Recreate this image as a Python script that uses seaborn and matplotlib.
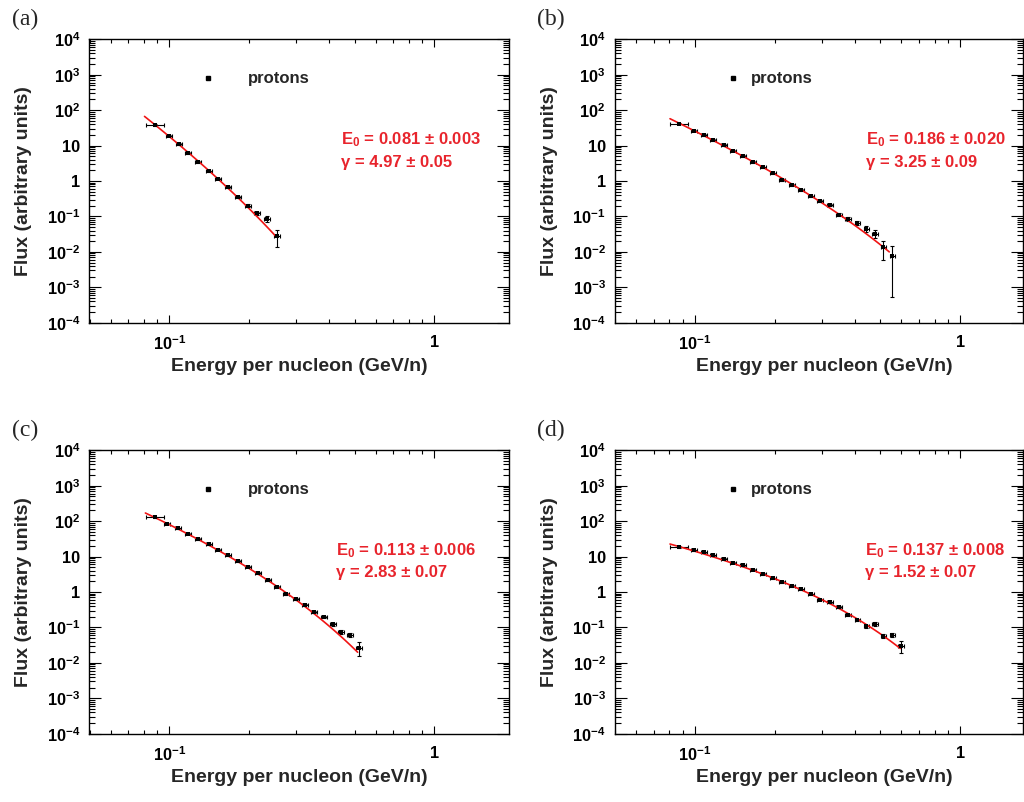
import numpy as np
import pandas as pd
import matplotlib
matplotlib.use("Agg")
import matplotlib.pyplot as plt
import matplotlib.ticker as mticker
import seaborn as sns

# --- values ------------------------------------------------------------------

A_ENERGY = [0.0880, 0.0994, 0.1084, 0.1177, 0.1279, 0.1407, 0.1527, 0.1665,
            0.1816, 0.1975, 0.2143, 0.2337, 0.2549]
A_FLUX = [38.5, 18.9, 11.0, 6.15, 3.43, 1.86, 1.16, 0.678, 0.354, 0.201,
          0.122, 0.085, 0.0275]
A_ERR_DN = [0.02] * 9 + [0.04, 0.05, 0.09, 0.31]
A_ERR_UP = [0.02] * 9 + [0.04, 0.05, 0.09, 0.19]

B_ENERGY = [0.0873, 0.0991, 0.1078, 0.1172, 0.1286, 0.1395, 0.1521, 0.1660,
            0.1810, 0.1964, 0.2135, 0.2317, 0.2518, 0.2733, 0.2962, 0.3224,
            0.3485, 0.3778, 0.4098, 0.4430, 0.4777, 0.5135, 0.5552]
B_FLUX = [41.4, 26.3, 19.9, 14.4, 10.4, 7.16, 5.08, 3.44, 2.42, 1.64, 1.07,
          0.771, 0.557, 0.367, 0.278, 0.205, 0.112, 0.0846, 0.0653, 0.0442,
          0.0319, 0.0134, 0.00745]
B_ERR_DN = [0.02] * 14 + [0.03, 0.03, 0.04, 0.05, 0.06, 0.08, 0.10, 0.35, 1.15]
B_ERR_UP = [0.02] * 14 + [0.03, 0.03, 0.04, 0.05, 0.06, 0.08, 0.10, 0.19, 0.28]

C_ENERGY = [0.0880, 0.0980, 0.1074, 0.1172, 0.1279, 0.1407, 0.1527, 0.1665,
            0.1816, 0.1975, 0.2154, 0.2349, 0.2549, 0.2763, 0.3007, 0.3241,
            0.3526, 0.3822, 0.4132, 0.4445, 0.4820, 0.5179]
C_FLUX = [127.5, 84.7, 62.4, 44.2, 31.3, 22.0, 15.6, 10.8, 7.50, 5.18, 3.44,
          2.18, 1.38, 0.879, 0.634, 0.438, 0.266, 0.192, 0.122, 0.0743,
          0.0611, 0.0263]
C_ERR_DN = [0.02] * 16 + [0.03, 0.03, 0.04, 0.05, 0.06, 0.22]
C_ERR_UP = [0.02] * 16 + [0.03, 0.03, 0.04, 0.05, 0.06, 0.16]

D_ENERGY = [0.0873, 0.0991, 0.1078, 0.1172, 0.1286, 0.1395, 0.1521, 0.1660,
            0.1810, 0.1964, 0.2135, 0.2317, 0.2518, 0.2733, 0.2962, 0.3224,
            0.3485, 0.3778, 0.4098, 0.4430, 0.4777, 0.5135, 0.5552, 0.5991]
D_FLUX = [18.6, 14.9, 13.1, 10.8, 8.71, 6.71, 5.64, 4.26, 3.22, 2.42, 1.92,
          1.48, 1.18, 0.855, 0.606, 0.509, 0.385, 0.224, 0.162, 0.107, 0.125,
          0.0584, 0.0611, 0.0299]
D_ERR_DN = [0.02] * 16 + [0.03, 0.03, 0.04, 0.05, 0.05, 0.06, 0.07, 0.20]
D_ERR_UP = [0.02] * 16 + [0.03, 0.03, 0.04, 0.05, 0.05, 0.06, 0.07, 0.13]

# fit: F = A * E^-gamma * exp(-E/E0), anchored at (FIT_X0, FIT_Y0)
FIT_E0 = [0.081, 0.186, 0.113, 0.137]
FIT_E0_ERR = [0.003, 0.020, 0.006, 0.008]
FIT_GAMMA = [4.97, 3.25, 2.83, 1.52]
FIT_GAMMA_ERR = [0.05, 0.09, 0.07, 0.07]
FIT_X0 = [0.0805, 0.0805, 0.0811, 0.0805]
FIT_Y0 = [66.6, 57.3, 169.8, 22.6]
FIT_X1 = [0.2527, 0.540, 0.5135, 0.594]

PANEL_NAMES = ["(a)", "(b)", "(c)", "(d)"]
Y_TICKS = [1e-4, 1e-3, 1e-2, 1e-1, 1, 10, 1e2, 1e3, 1e4]
Y_TICK_LABELS = [r"$10^{-4}$", r"$10^{-3}$", r"$10^{-2}$", r"$10^{-1}$",
                 "1", "10", r"$10^{2}$", r"$10^{3}$", r"$10^{4}$"]
X_TICKS = [0.1, 1]
X_TICK_LABELS = [r"$10^{-1}$", "1"]

# --- style -------------------------------------------------------------------

sns.set_theme(style="ticks")
plt.rcParams["font.family"] = ["Liberation Sans", "DejaVu Sans"]
plt.rcParams["font.weight"] = "bold"
plt.rcParams["mathtext.fontset"] = "custom"
plt.rcParams["mathtext.rm"] = "Liberation Sans:bold"
plt.rcParams["mathtext.bf"] = "Liberation Sans:bold"
plt.rcParams["mathtext.it"] = "Liberation Sans:bold"
plt.rcParams["mathtext.default"] = "bf"

RED_LINE = "#f01414"
RED_TEXT = "#e8242c"
W, H = 1024, 802

fig = plt.figure(figsize=(W / 100, H / 100), dpi=100)
fig.patch.set_facecolor("white")

# pixel boxes: left, top, width, height
BOXES = [(89.3, 39.3, 420.0, 283.4), (614.7, 39.3, 408.0, 283.4),
         (89.3, 450.3, 420.0, 283.4), (614.7, 450.3, 408.0, 283.4)]
XLIMS = [(0.0498, 1.92), (0.0498, 1.72), (0.0498, 1.92), (0.0498, 1.72)]
FIT_TEXT_DX = [251.7, 251.3, 246.7, 250.3]
LEGEND_TEXT_DX = [158.7, 136.0, 158.7, 136.0]

datasets = [
    (A_ENERGY, A_FLUX, A_ERR_DN, A_ERR_UP),
    (B_ENERGY, B_FLUX, B_ERR_DN, B_ERR_UP),
    (C_ENERGY, C_FLUX, C_ERR_DN, C_ERR_UP),
    (D_ENERGY, D_FLUX, D_ERR_DN, D_ERR_UP),
]


def frac(box, dx, dy):
    """Pixel offset from the top-left of an axes box -> axes fraction."""
    left, top, w, h = box
    return dx / w, 1 - dy / h


for i, (energy, flux, dn, up) in enumerate(datasets):
    left, top, w, h = BOXES[i]
    ax = fig.add_axes([left / W, 1 - (top + h) / H, w / W, h / H])
    df = pd.DataFrame({"energy": energy, "flux": flux,
                       "dn": dn, "up": up})

    # x half widths in dex: first bin is wider
    xdex = np.full(len(df), 0.011)
    xdex[0] = 0.034
    xerr = [df.energy - df.energy / 10 ** xdex, df.energy * 10 ** xdex - df.energy]
    yerr = [df.flux - df.flux / 10 ** df.dn, df.flux * 10 ** df.up - df.flux]

    # fit curve
    e0, g = FIT_E0[i], FIT_GAMMA[i]
    xs = np.geomspace(FIT_X0[i], FIT_X1[i], 120)
    amp = FIT_Y0[i] * FIT_X0[i] ** g * np.exp(FIT_X0[i] / e0)
    fit = pd.DataFrame({"energy": xs, "flux": amp * xs ** (-g) * np.exp(-xs / e0)})

    ax.errorbar(df.energy, df.flux, xerr=xerr, yerr=yerr, fmt="none",
                ecolor="black", elinewidth=0.8, capsize=1.5, capthick=0.8, zorder=2)
    sns.lineplot(data=fit, x="energy", y="flux", ax=ax, color=RED_LINE,
                 linewidth=1.2, estimator=None, sort=False, zorder=3)
    sns.scatterplot(data=df, x="energy", y="flux", ax=ax, marker="s", s=12,
                    color="black", edgecolor="black", linewidth=0, zorder=4)

    ax.set_xscale("log")
    ax.set_yscale("log")
    ax.set_xlim(*XLIMS[i])
    ax.set_ylim(1e-4, 1e4)

    ax.yaxis.set_major_locator(mticker.FixedLocator(Y_TICKS))
    ax.yaxis.set_major_formatter(mticker.FixedFormatter(Y_TICK_LABELS))
    ax.yaxis.set_minor_locator(mticker.LogLocator(base=10, subs=np.arange(2, 10) * 1.0, numticks=100))
    ax.yaxis.set_minor_formatter(mticker.NullFormatter())
    ax.xaxis.set_major_locator(mticker.FixedLocator(X_TICKS))
    ax.xaxis.set_major_formatter(mticker.FixedFormatter(X_TICK_LABELS))
    ax.xaxis.set_minor_locator(mticker.LogLocator(base=10, subs=np.arange(2, 10) * 1.0, numticks=100))
    ax.xaxis.set_minor_formatter(mticker.NullFormatter())

    ax.tick_params(which="both", direction="in", top=True, right=True,
                   width=0.8, color="black", labelsize=11.8, labelcolor="black")
    ax.tick_params(axis="y", which="major", length=8.6, pad=6.5)
    ax.tick_params(axis="y", which="minor", length=4.3)
    ax.tick_params(axis="x", which="major", length=5.8, pad=8.5)
    ax.tick_params(axis="x", which="minor", length=3.0)
    for sp in ax.spines.values():
        sp.set_linewidth(1.0)
        sp.set_color("black")
    ax.set_xlabel("")
    ax.set_ylabel("")

    # axis titles
    ax.text(*frac(BOXES[i], -65.3, h / 2), "Flux (arbitrary units)", transform=ax.transAxes,
            rotation=90, ha="center", va="center", fontsize=14, fontweight="bold")
    ax.text(*frac(BOXES[i], 210.0, h + 44.0), "Energy per nucleon (GeV/n)",
            transform=ax.transAxes, ha="center", va="center", fontsize=14,
            fontweight="bold")

    # legend
    ax.plot(*frac(BOXES[i], 118.7, 38.7), marker="s", ms=3.3, color="black",
            transform=ax.transAxes, clip_on=False)
    ax.text(*frac(BOXES[i], LEGEND_TEXT_DX[i], 38.7), "protons", transform=ax.transAxes,
            ha="left", va="center", fontsize=12, fontweight="bold")

    # fit parameters
    ax.text(*frac(BOXES[i], FIT_TEXT_DX[i], 100.7),
            f"$E_0$ = {FIT_E0[i]:.3f} ± {FIT_E0_ERR[i]:.3f}", transform=ax.transAxes,
            ha="left", va="center", fontsize=12, fontweight="bold", color=RED_TEXT)
    ax.text(*frac(BOXES[i], FIT_TEXT_DX[i], 122.7),
            f"γ = {FIT_GAMMA[i]:.2f} ± {FIT_GAMMA_ERR[i]:.2f}", transform=ax.transAxes,
            ha="left", va="center", fontsize=12, fontweight="bold", color=RED_TEXT)

    # panel letter
    ax.text(*frac(BOXES[i], -64.3, -20.3), PANEL_NAMES[i], transform=ax.transAxes,
            ha="center", va="center", fontsize=17, fontweight="normal",
            family=["Liberation Serif", "DejaVu Serif"])

fig.savefig("out.png", dpi=100, facecolor="white")
